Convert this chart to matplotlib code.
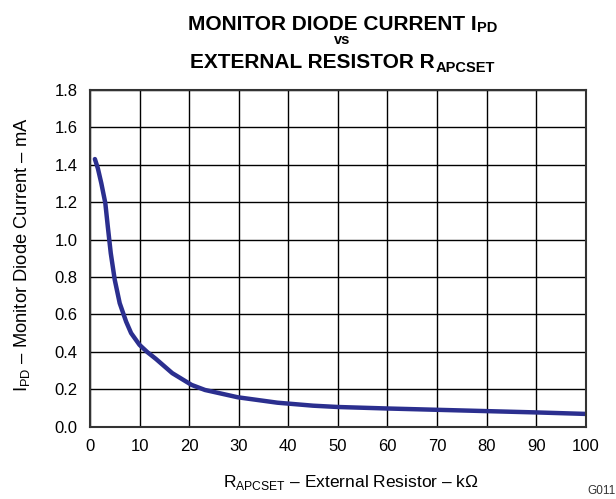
import matplotlib
matplotlib.use("Agg")
import matplotlib.pyplot as plt

plt.rcParams["font.family"] = ["Liberation Sans", "DejaVu Sans"]
plt.rcParams["mathtext.fontset"] = "custom"
plt.rcParams["mathtext.rm"] = "Liberation Sans"
plt.rcParams["mathtext.bf"] = "Liberation Sans:bold"

# R_APCSET (kOhm) vs I_PD (mA)
r_apcset = [1.0, 1.6, 2.3, 3.1, 3.6, 4.2, 5.0, 6.0, 7.3, 8.3, 10, 11.5, 13.3,
            16.6, 20.5, 23.2, 29.8, 37.8, 45, 50, 60, 70, 80, 90, 100]
i_pd = [1.43, 1.38, 1.30, 1.195, 1.07, 0.927, 0.785, 0.66, 0.561, 0.50, 0.437,
        0.40, 0.362, 0.286, 0.223, 0.196, 0.157, 0.128, 0.112, 0.105, 0.097,
        0.090, 0.083, 0.076, 0.068]

xticks = list(range(0, 101, 10))
yticks = [0.0, 0.2, 0.4, 0.6, 0.8, 1.0, 1.2, 1.4, 1.6, 1.8]

fig = plt.figure(figsize=(6.16, 4.99), dpi=100)
ax = fig.add_axes([0.146, 0.145, 0.805, 0.675])

ax.plot(r_apcset, i_pd, color="#2b2f8f", lw=3.2, solid_capstyle="round",
        solid_joinstyle="round")

ax.set_xlim(0, 100)
ax.set_ylim(0, 1.8)
ax.set_xticks(xticks)
ax.set_yticks(yticks)
ax.set_yticklabels([f"{v:.1f}" for v in yticks])
ax.tick_params(length=0, labelsize=12)
ax.tick_params(axis="x", pad=9)
ax.tick_params(axis="y", pad=9)
ax.grid(True, color="black", lw=1)
for s in ax.spines.values():
    s.set_linewidth(1.5)
    s.set_color("#333333")

ax.set_xlabel(r"R$_{\mathregular{APCSET}}$ – External Resistor – kΩ", fontsize=12.5)
ax.xaxis.label.set_va("baseline")
ax.xaxis.set_label_coords(0.526, -0.178)
ax.set_ylabel(r"I$_{\mathregular{PD}}$ – Monitor Diode Current – mA", fontsize=13.2)
ax.yaxis.label.set_va("center")
ax.yaxis.set_label_coords(-0.137, 0.51)


# title lines with hand-placed subscripts
def title_line(y_px, main, sub, cx=342, size=15, sub_size=10.5, drop=3):
    renderer = fig.canvas.get_renderer()
    t1 = fig.text(0, 0, main, fontsize=size, fontweight="bold", va="baseline")
    t2 = fig.text(0, 0, sub, fontsize=sub_size, fontweight="bold", va="baseline")
    w1 = t1.get_window_extent(renderer).width
    w2 = t2.get_window_extent(renderer).width
    x0 = cx - (w1 + w2) / 2
    H = fig.bbox.height
    t1.set_position((x0 / fig.bbox.width, 1 - y_px / H))
    t2.set_position(((x0 + w1 + 1) / fig.bbox.width, 1 - (y_px + drop) / H))


title_line(29.5, "MONITOR DIODE CURRENT I", "PD")
fig.text(342 / 616, 1 - 44.5 / 499, "vs", ha="center", va="baseline",
         fontsize=10.5, fontweight="bold")
title_line(68.5, "EXTERNAL RESISTOR R", "APCSET")
fig.text(0.999, 0.004, "G011", ha="right", va="bottom", fontsize=8.5, color="#333333")

fig.savefig("out.png", dpi=100)
